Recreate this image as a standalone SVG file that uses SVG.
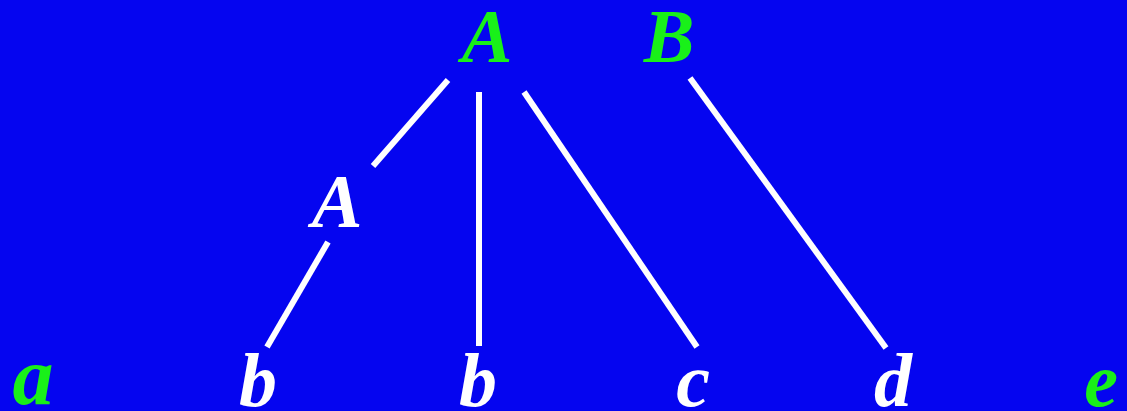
<svg xmlns="http://www.w3.org/2000/svg" width="1127" height="411" viewBox="0 0 1127 411">
<style>
.t{font-family:"Liberation Serif","Times New Roman",serif;font-weight:bold;font-style:italic;font-size:76px;text-anchor:middle}
.g{fill:#19f019}
.w{fill:#ffffff}
.c line{stroke:#ffffff;stroke-width:6}
</style>
<rect width="1127" height="411" fill="#0505f0"/>
<g class="c">
<line x1="448" y1="80" x2="373" y2="166"/>
<line x1="479" y1="92" x2="479" y2="346"/>
<line x1="524" y1="92" x2="697" y2="347"/>
<line x1="690" y1="78" x2="886" y2="348"/>
<line x1="328" y1="242" x2="267" y2="347"/>
</g>
<g id="A-top"><text class="t g" x="487" y="62">A</text></g>
<g id="B-top"><text class="t g" x="669" y="62">B</text></g>
<g id="A-mid"><text class="t w" x="337" y="227">A</text></g>
<g id="a"><text class="t g" x="33" y="404" style="font-size:82px">a</text></g>
<g id="b1"><text class="t w" x="258" y="406">b</text></g>
<g id="b2"><text class="t w" x="478" y="406">b</text></g>
<g id="c"><text class="t w" x="693" y="406">c</text></g>
<g id="d"><text class="t w" x="893" y="406">d</text></g>
<g id="e"><text class="t g" x="1101" y="406">e</text></g>
</svg>
